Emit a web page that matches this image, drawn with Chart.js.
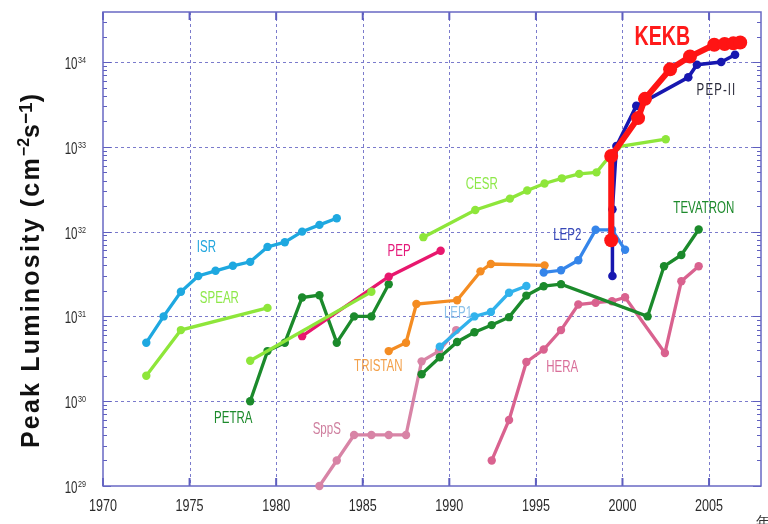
<!DOCTYPE html>
<html>
<head>
<meta charset="utf-8">
<script src="https://cdn.jsdelivr.net/npm/chart.js@4/dist/chart.umd.min.js"></script>
<style>
  html, body { margin: 0; padding: 0; background: #ffffff; overflow: hidden; }
  #wrap { width: 768px; height: 524px; position: relative; }
</style>
</head>
<body>
<div id="wrap"><canvas id="c" width="768" height="524"></canvas></div>
<script>
// Axis ticks
const yearTicks = [1970, 1975, 1980, 1985, 1990, 1995, 2000, 2005];
const decadeTicks = [1e29, 1e30, 1e31, 1e32, 1e33, 1e34];

// Peak luminosity history per collider (year, cm^-2 s^-1)
const isrYears = [1972.5, 1973.5, 1974.5, 1975.5, 1976.5, 1977.5, 1978.5, 1979.5, 1980.5, 1981.5, 1982.5, 1983.5];
const isrLum   = [4.9e30, 1.0e31, 1.95e31, 3.0e31, 3.45e31, 3.95e31, 4.4e31, 6.6e31, 7.5e31, 1.0e32, 1.2e32, 1.44e32];

const spearYears = [1972.5, 1974.5, 1979.5];
const spearLum   = [2.0e30, 6.9e30, 1.26e31];

const cesrEarlyYears = [1978.5, 1985.5];
const cesrEarlyLum   = [3.0e30, 1.95e31];

const cesrYears = [1988.5, 1991.5, 1993.5, 1994.5, 1995.5, 1996.5, 1997.5, 1998.5, 1999.7, 2002.5];
const cesrLum   = [8.6e31, 1.8e32, 2.45e32, 3.05e32, 3.7e32, 4.25e32, 4.8e32, 5.0e32, 1.0e33, 1.23e33];

const petraYears = [1978.5, 1979.5, 1980.5, 1981.5, 1982.5, 1983.5, 1984.5, 1985.5, 1986.5];
const petraLum   = [1.0e30, 3.9e30, 4.9e30, 1.67e31, 1.78e31, 4.9e30, 1.0e31, 1.0e31, 2.4e31];

const pepYears = [1981.5, 1986.5, 1989.5];
const pepLum   = [5.85e30, 2.94e31, 5.96e31];

const tristanYears = [1986.5, 1987.5, 1988.1, 1990.45, 1991.8, 1992.4, 1995.5];
const tristanLum   = [3.9e30, 4.9e30, 1.4e31, 1.55e31, 3.4e31, 4.15e31, 4.0e31];

const sppsYears = [1982.5, 1983.5, 1984.5, 1985.5, 1986.5, 1987.5, 1988.4, 1989.4, 1990.4];
const sppsLum   = [1.0e29, 2.0e29, 4.0e29, 4.0e29, 4.0e29, 4.0e29, 2.95e30, 3.9e30, 6.9e30];

const lep1Years = [1989.45, 1991.45, 1992.4, 1993.45, 1994.45];
const lep1Lum   = [4.4e30, 1.0e31, 1.13e31, 1.9e31, 2.28e31];

const tevatronYears = [1988.4, 1989.45, 1990.45, 1991.45, 1992.45, 1993.45, 1994.45, 1995.45, 1996.45, 2001.45, 2002.4, 2003.4, 2004.4];
const tevatronLum   = [2.08e30, 3.3e30, 5.0e30, 6.5e30, 7.9e30, 9.8e30, 1.76e31, 2.27e31, 2.4e31, 1.0e31, 3.9e31, 5.3e31, 1.06e32];

const heraYears = [1992.45, 1993.45, 1994.45, 1995.45, 1996.45, 1997.45, 1998.45, 1999.4, 2000.15, 2002.45, 2003.4, 2004.4];
const heraLum   = [2.0e29, 6.0e29, 2.9e30, 4.07e30, 6.9e30, 1.38e31, 1.45e31, 1.51e31, 1.68e31, 3.7e30, 2.6e31, 3.9e31];

const lep2Years = [1995.45, 1996.45, 1997.45, 1998.45, 1999.4, 2000.15];
const lep2Lum   = [3.3e31, 3.5e31, 4.6e31, 1.05e32, 1.05e32, 6.1e31];

const kekbYears = [1999.35, 1999.35, 2000.9, 2001.3, 2002.75, 2003.9, 2005.3, 2005.9, 2006.4, 2006.8];
const kekbLum   = [7.9e31, 7.8e32, 2.18e33, 3.68e33, 8.2e33, 1.16e34, 1.6e34, 1.63e34, 1.66e34, 1.7e34];

const pep2Years = [1999.42, 1999.42, 1999.65, 2000.8, 2003.8, 2004.3, 2005.7, 2006.5];
const pep2Lum   = [3.0e31, 1.83e32, 1.02e33, 3.04e33, 6.6e33, 9.3e33, 1.0e34, 1.22e34];

// Curve names, placed at (year, luminosity)
const curveNames = [
  { text: 'ISR',      year: 1975.97, lum: 6.4e31,  color: '#23a6dd' },
  { text: 'SPEAR',    year: 1976.72, lum: 1.64e31, color: '#8ee84a' },
  { text: 'PETRA',    year: 1977.52, lum: 6.3e29,  color: '#1d8a2c' },
  { text: 'PEP',      year: 1987.10, lum: 5.8e31,  color: '#e5197a' },
  { text: 'CESR',     year: 1991.87, lum: 3.6e32,  color: '#8ee84a' },
  { text: 'LEP2',     year: 1996.81, lum: 8.9e31,  color: '#3748b8' },
  { text: 'TEVATRON', year: 2004.70, lum: 1.85e32, color: '#1d8a2c' },
  { text: 'PEP-II',   year: 2005.43, lum: 4.6e33,  color: '#2a2a3a' },
  { text: 'LEP1',     year: 1990.50, lum: 1.07e31, color: '#8cc2ea' },
  { text: 'TRISTAN',  year: 1985.90, lum: 2.59e30, color: '#f3a04a' },
  { text: 'HERA',     year: 1996.52, lum: 2.5e30,  color: '#d9709a' },
  { text: 'SppS',     year: 1982.92, lum: 4.6e29,  color: '#cf7f9f' }
];
const bigName = { text: 'KEKB', year: 2002.30, lum: 1.95e34, color: '#ff1a1a' };

const FONT = '"Liberation Sans", Arial, sans-serif';

function pts(xs, ys) { return xs.map((x, i) => ({ x: x, y: ys[i] })); }
function series(label, xs, ys, color, width, radius) {
  return {
    label: label,
    data: pts(xs, ys),
    borderColor: color,
    backgroundColor: color,
    pointBackgroundColor: color,
    pointBorderColor: color,
    pointBorderWidth: 0,
    pointRadius: radius,
    borderWidth: width,
    tension: 0,
    clip: false
  };
}

// draws horizontally condensed text
function txt(ctx, s, x, y, size, o) {
  o = o || {};
  ctx.save();
  ctx.font = (o.weight || 'normal') + ' ' + size + 'px ' + FONT;
  ctx.fillStyle = o.color || '#2a2a2a';
  ctx.textBaseline = o.baseline || 'middle';
  ctx.textAlign = 'left';
  if (o.spacing) ctx.letterSpacing = o.spacing + 'px';
  const sx = o.sx || 1;
  const w = ctx.measureText(s).width * sx;
  let left = x;
  if (o.align === 'center') left = x - w / 2;
  else if (o.align === 'right') left = x - w;
  ctx.translate(left, y);
  ctx.scale(sx, 1);
  ctx.fillText(s, 0, 0);
  ctx.restore();
  return w;
}

const framePlugin = {
  id: 'frame',
  beforeDatasetsDraw(chart) {
    const { ctx, chartArea: a, scales: { x, y } } = chart;
    ctx.save();
    // dotted grid
    ctx.strokeStyle = '#7b7bcc';
    ctx.lineWidth = 1;
    ctx.setLineDash([3, 3]);
    yearTicks.forEach(v => {
      if (v <= x.min || v >= x.max) return;
      const px = Math.round(x.getPixelForValue(v)) + 0.5;
      ctx.beginPath(); ctx.moveTo(px, a.top); ctx.lineTo(px, a.bottom); ctx.stroke();
    });
    decadeTicks.forEach(v => {
      if (v <= y.min || v >= y.max) return;
      const py = Math.round(y.getPixelForValue(v)) + 0.5;
      ctx.beginPath(); ctx.moveTo(a.left, py); ctx.lineTo(a.right, py); ctx.stroke();
    });
    ctx.setLineDash([]);
    // tick marks
    ctx.strokeStyle = '#5e5ebf';
    ctx.lineWidth = 1;
    for (let d = 29; d <= 34; d++) {
      for (let m = 1; m <= 9; m++) {
        const v = m * Math.pow(10, d);
        if (v > y.max) break;
        const py = Math.round(y.getPixelForValue(v)) + 0.5;
        const len = m === 1 ? 8 : 4;
        ctx.beginPath();
        ctx.moveTo(a.left, py); ctx.lineTo(a.left + len, py);
        ctx.moveTo(a.right, py); ctx.lineTo(a.right - len, py);
        ctx.stroke();
      }
    }
    ctx.lineWidth = 2;
    yearTicks.forEach(v => {
      const px = x.getPixelForValue(v);
      ctx.beginPath();
      ctx.moveTo(px, a.bottom); ctx.lineTo(px, a.bottom - 8);
      ctx.moveTo(px, a.top); ctx.lineTo(px, a.top + 8);
      ctx.stroke();
    });
    // plot frame
    ctx.strokeStyle = '#6868c4';
    ctx.lineWidth = 1.5;
    ctx.strokeRect(a.left, a.top, a.right - a.left, a.bottom - a.top);
    ctx.restore();
  },
  afterDraw(chart) {
    const { ctx, chartArea: a, scales: { x, y } } = chart;
    // x tick labels
    x.ticks.forEach(t => {
      txt(ctx, String(t.value), x.getPixelForValue(t.value), a.bottom + 25, 17, { align: 'center', sx: 0.74, baseline: 'alphabetic', color: '#2b2b2b' });
    });
    // y tick labels: 10 with raised exponent
    y.ticks.forEach(t => {
      const py = y.getPixelForValue(t.value);
      const exp = String(Math.round(Math.log10(t.value)));
      const we = txt(ctx, exp, 86, py + 1, 9, { align: 'right', sx: 0.8, baseline: 'alphabetic', color: '#2b2b2b' });
      txt(ctx, '10', 86 - we - 0.5, py + 7, 16, { align: 'right', sx: 0.72, baseline: 'alphabetic', color: '#2b2b2b' });
    });
    // axis title
    ctx.save();
    ctx.translate(39, 271);
    ctx.rotate(-Math.PI / 2);
    const parts = [
      { t: 'Peak Luminosity (cm', size: 25, rise: 0, sp: 2.2 },
      { t: '\u22122', size: 16, rise: 10, sp: 0 },
      { t: 's', size: 25, rise: 0, sp: 0 },
      { t: '\u22121', size: 19, rise: 7, sp: 0 },
      { t: ')', size: 25, rise: 0, sp: 0 }
    ];
    let total = 0;
    parts.forEach(p => {
      ctx.font = 'bold ' + p.size + 'px ' + FONT;
      ctx.letterSpacing = p.sp + 'px';
      p.w = ctx.measureText(p.t).width;
      total += p.w;
    });
    let cx = -total / 2;
    ctx.fillStyle = '#111';
    ctx.textBaseline = 'alphabetic';
    parts.forEach(p => {
      ctx.font = 'bold ' + p.size + 'px ' + FONT;
      ctx.letterSpacing = p.sp + 'px';
      ctx.fillText(p.t, cx, -p.rise);
      cx += p.w;
    });
    ctx.restore();
    // curve names
    curveNames.forEach(n => {
      const spacing = n.text === 'PEP-II' ? 1.5 : 0;
      txt(ctx, n.text, x.getPixelForValue(n.year), y.getPixelForValue(n.lum), 16, { align: 'center', sx: 0.72, color: n.color, spacing: spacing });
    });
    txt(ctx, bigName.text, x.getPixelForValue(bigName.year), y.getPixelForValue(bigName.lum), 28, { align: 'center', sx: 0.7, color: bigName.color, weight: 'bold' });
    // x axis unit, at the right edge
    txt(ctx, '年', 756, 527, 15, { color: '#333', baseline: 'alphabetic' });
  }
};

const datasets = [
  series('KEKB', kekbYears, kekbLum, '#ff1414', 6, 7),
  series('PEP-II', pep2Years, pep2Lum, '#1717b0', 3.5, 4.3),
  series('LEP2', lep2Years, lep2Lum, '#3585ea', 3.3, 4.2),
  series('CESR', cesrYears, cesrLum, '#8ee63a', 3.3, 4.2),
  series('CESR (early)', cesrEarlyYears, cesrEarlyLum, '#8ee63a', 3.3, 4.2),
  series('TEVATRON', tevatronYears, tevatronLum, '#1b8a2b', 3.3, 4.2),
  series('HERA', heraYears, heraLum, '#d9628f', 3.3, 4.2),
  series('LEP1', lep1Years, lep1Lum, '#31b2ec', 3.3, 4.2),
  series('TRISTAN', tristanYears, tristanLum, '#f48c22', 3.3, 4.2),
  series('SppS', sppsYears, sppsLum, '#d884a6', 3.3, 4.2),
  series('PEP', pepYears, pepLum, '#e8176e', 3.3, 4.2),
  series('PETRA', petraYears, petraLum, '#1b8a2b', 3.3, 4.2),
  series('SPEAR', spearYears, spearLum, '#8ee63a', 3.3, 4.2),
  series('ISR', isrYears, isrLum, '#1ea8e0', 3.3, 4.2)
];

new Chart(document.getElementById('c'), {
  type: 'line',
  data: { datasets: datasets },
  options: {
    responsive: false,
    animation: false,
    devicePixelRatio: 1,
    layout: { padding: { top: 12, right: 4, left: 0, bottom: 0 } },
    plugins: { legend: { display: false }, tooltip: { enabled: false } },
    scales: {
      x: {
        type: 'linear',
        min: 1970,
        max: 2008,
        afterBuildTicks: s => { s.ticks = yearTicks.map(v => ({ value: v })); },
        afterFit: s => { s.height = 38; },
        ticks: { display: false },
        grid: { display: false },
        border: { display: false }
      },
      y: {
        type: 'logarithmic',
        min: 1e29,
        max: Math.pow(10, 34.59),
        afterBuildTicks: s => { s.ticks = decadeTicks.map(v => ({ value: v })); },
        afterFit: s => { s.width = 103; },
        ticks: { display: false },
        grid: { display: false },
        border: { display: false }
      }
    }
  },
  plugins: [framePlugin]
});
</script>
</body>
</html>
